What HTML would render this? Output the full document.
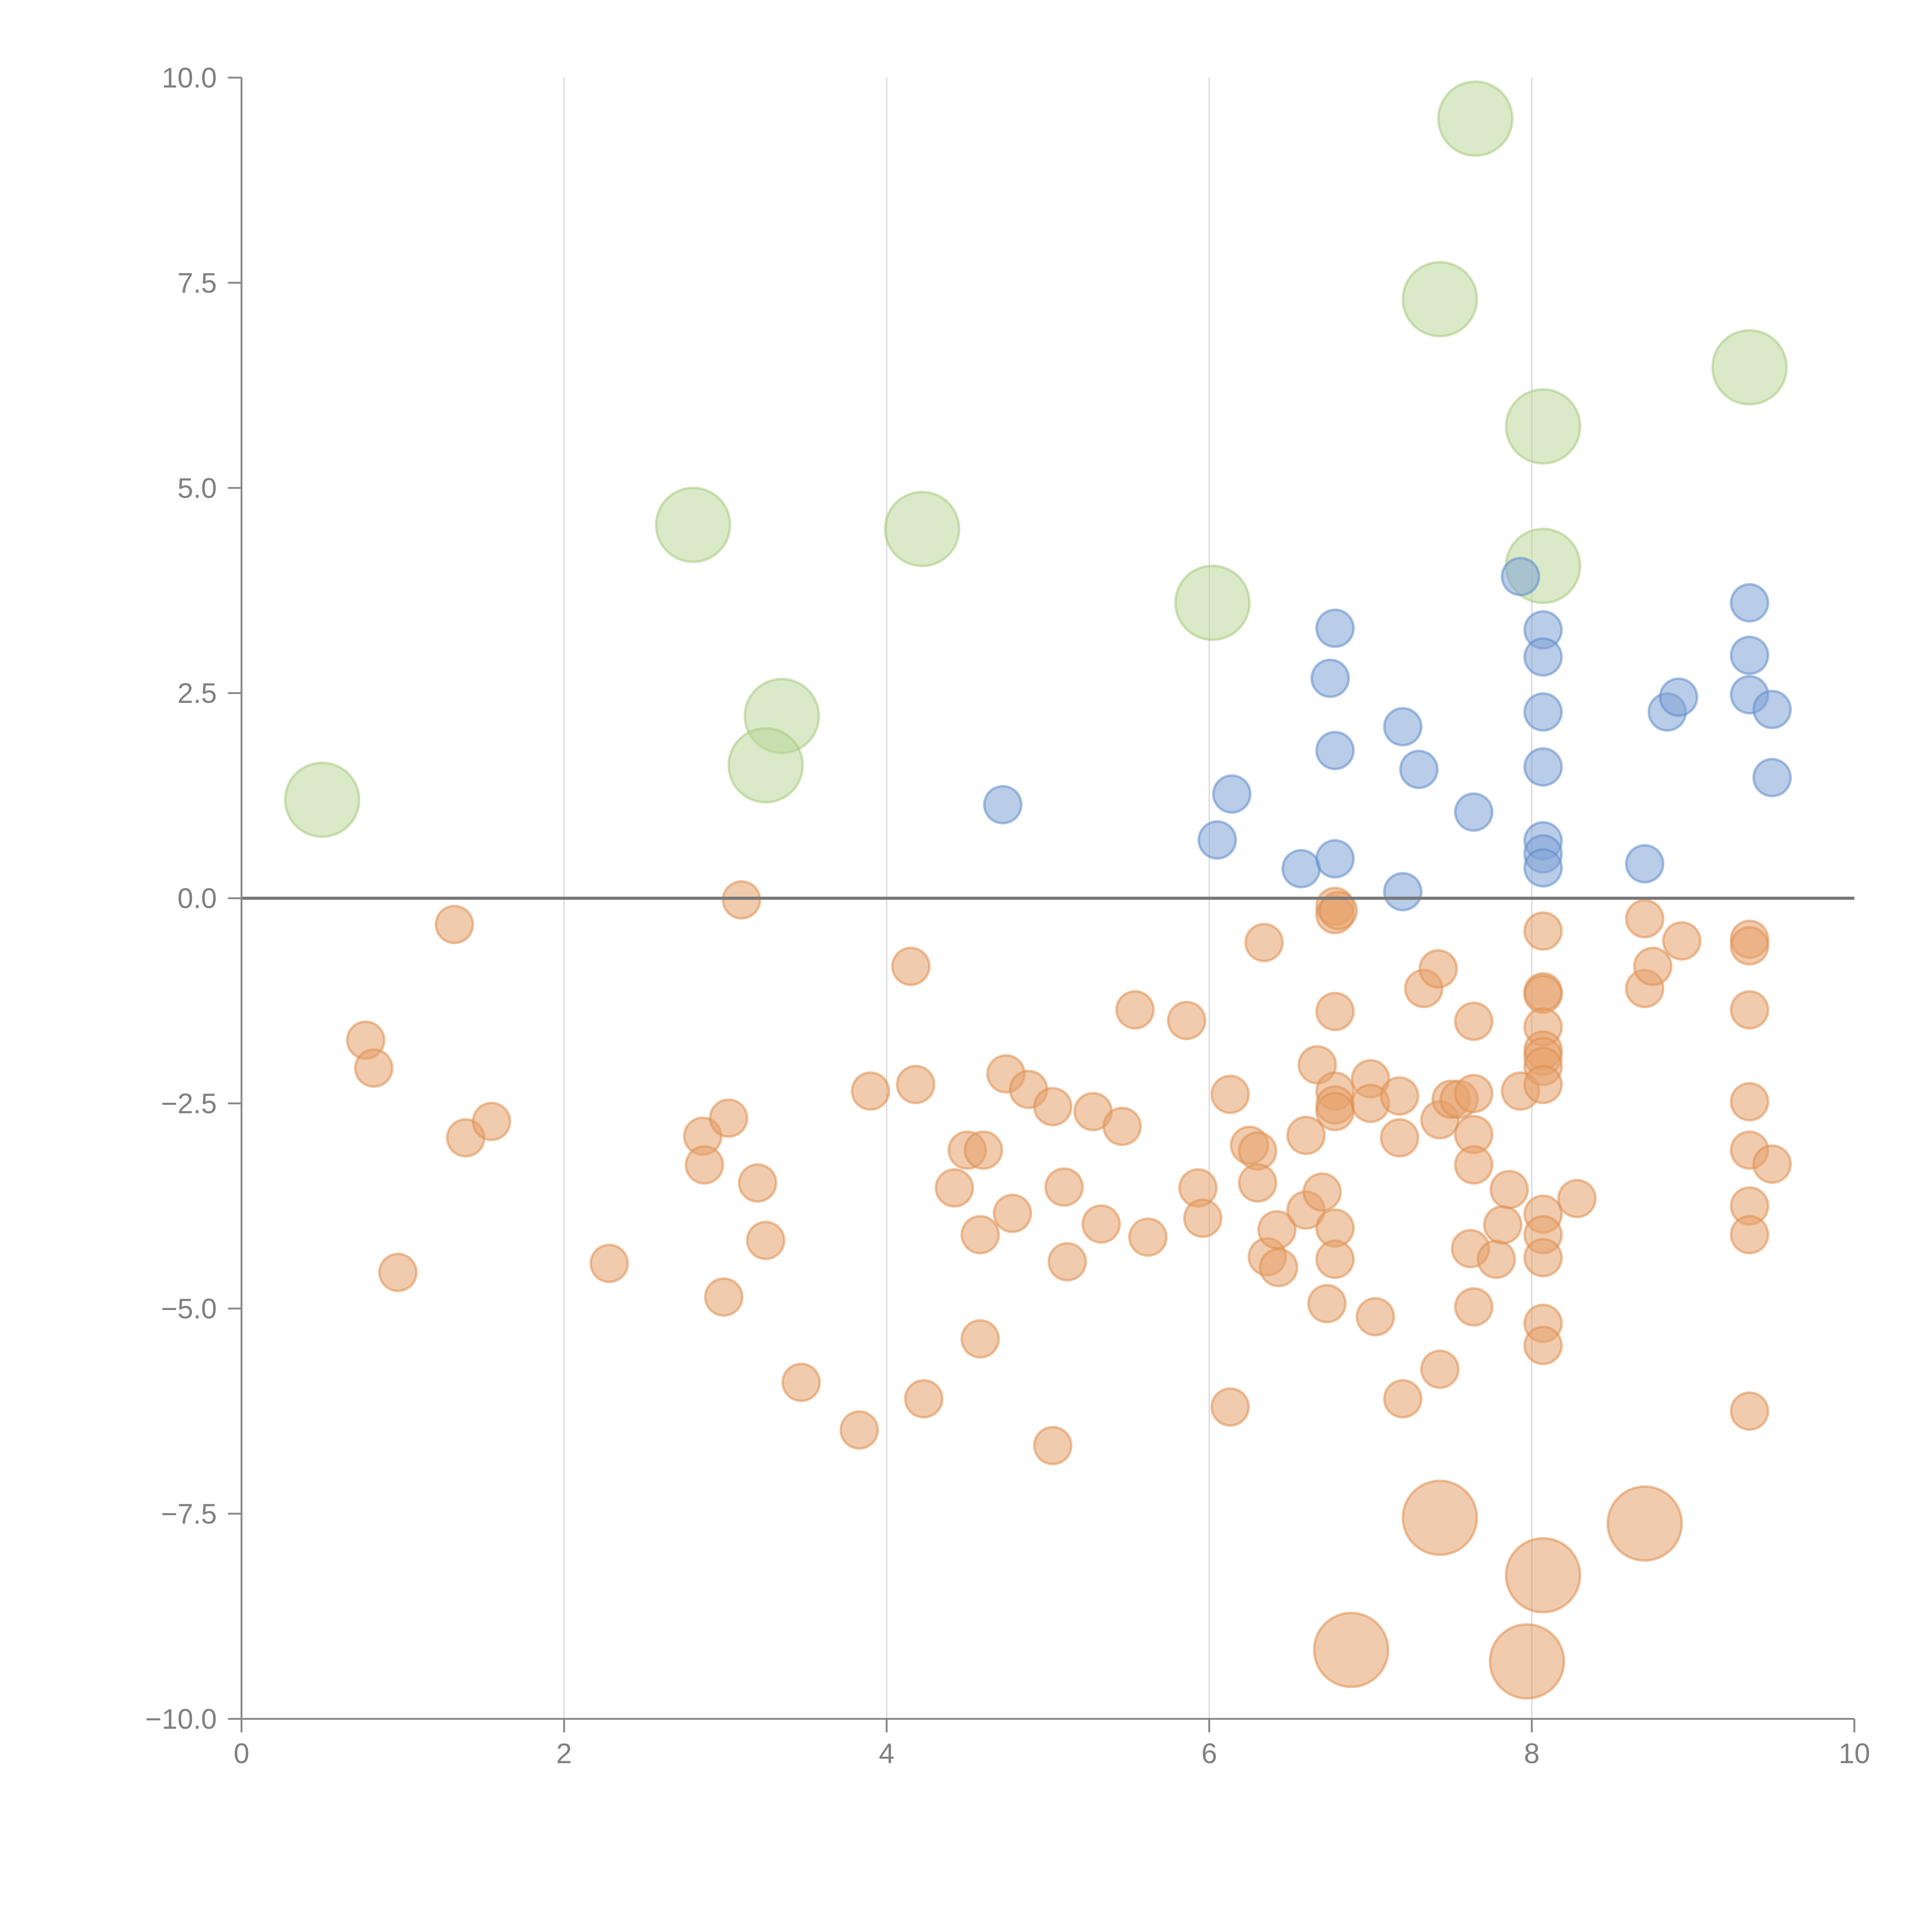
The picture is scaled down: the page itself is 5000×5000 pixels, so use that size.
<!DOCTYPE html>
<html><head><meta charset="utf-8"><style>html,body{margin:0;padding:0;background:#fff}svg{display:block}</style></head>
<body>
<svg id="chart" width="5000" height="5000" viewBox="0 0 1568 1568" xmlns="http://www.w3.org/2000/svg" font-family="Liberation Sans, sans-serif">
<g id="grid"></g>
<g id="marks"></g>
<g id="axes"></g>
</svg>
<script>
const xTicks=[0,2,4,6,8,10];
const yTicks=[10,7.5,5,2.5,0,-2.5,-5,-7.5,-10];
const yTickLabels=["10.0","7.5","5.0","2.5","0.0","\u22122.5","\u22125.0","\u22127.5","\u221210.0"];
const greenX=[0.5,2.8,3.35,3.25,4.22,6.02,7.65,7.43,9.35,8.07,8.07];
const greenY=[1.2,4.55,2.22,1.62,4.5,3.6,9.5,7.3,6.47,5.75,4.05];
const blueX=[4.72,6.05,6.14,6.57,6.75,6.78,6.78,6.78,7.2,7.2,7.3,7.64,7.93,8.07,8.07,8.07,8.07,8.07,8.07,8.07,8.7,8.84,8.91,9.35,9.35,9.35,9.49,9.49];
const blueY=[1.14,0.71,1.27,0.36,2.68,3.29,1.8,0.48,2.09,0.08,1.57,1.05,3.92,3.27,2.94,2.27,1.6,0.7,0.54,0.37,0.42,2.27,2.45,3.6,2.96,2.48,2.3,1.47];
const orangeX=[1.32,0.77,0.82,1.39,1.55,0.97,2.28,2.86,2.87,3.02,2.99,3.1,3.2,3.25,3.47,3.83,3.9,4.15,4.18,4.23,4.42,4.5,4.6,4.58,4.58,4.74,4.78,4.88,5.03,5.03,5.1,5.12,5.28,5.33,5.46,5.54,5.62,5.86,5.93,5.96,6.13,6.13,6.25,6.3,6.3,6.34,6.36,6.42,6.43,6.6,6.6,6.67,6.7,6.73,6.78,6.78,6.78,6.78,6.78,6.78,6.78,6.78,6.8,7.0,7.0,7.03,7.18,7.18,7.2,7.33,7.42,7.43,7.5,7.55,7.43,7.64,7.64,7.64,7.64,7.62,7.64,7.78,7.82,7.86,7.93,8.07,8.07,8.07,8.07,8.07,8.07,8.07,8.07,8.07,8.07,8.07,8.07,8.07,8.28,8.7,8.7,8.75,8.93,9.35,9.35,9.35,9.35,9.35,9.35,9.35,9.35,9.49];
const orangeY=[-0.32,-1.73,-2.07,-2.92,-2.72,-4.56,-4.45,-2.9,-3.25,-2.68,-4.86,-0.02,-3.47,-4.17,-5.9,-6.48,-2.35,-0.83,-2.27,-6.1,-3.53,-3.07,-3.07,-4.1,-5.37,-2.14,-3.84,-2.33,-2.54,-6.67,-3.52,-4.43,-2.6,-3.97,-2.78,-1.36,-4.13,-1.49,-3.53,-3.9,-2.39,-6.2,-3.01,-3.08,-3.47,-0.54,-4.37,-4.04,-4.5,-2.89,-3.8,-2.03,-3.58,-4.94,-1.38,-2.35,-2.52,-2.6,-4.02,-4.4,-0.1,-0.2,-0.15,-2.2,-2.5,-5.1,-2.41,-2.92,-6.1,-1.1,-0.86,-2.7,-2.45,-2.45,-5.74,-1.5,-2.38,-2.88,-3.25,-4.27,-4.98,-4.4,-3.98,-3.55,-2.35,-0.4,-1.14,-1.17,-1.57,-1.85,-1.93,-2.05,-2.27,-3.85,-4.1,-4.38,-5.18,-5.45,-3.66,-0.25,-1.1,-0.83,-0.52,-0.5,-0.58,-1.36,-2.48,-3.07,-3.75,-4.1,-6.25,-3.24];
const bigOrangeX=[7.43,8.7,8.07,6.88,7.97];
const bigOrangeY=[-7.55,-7.62,-8.25,-9.16,-9.3];

const NS="http://www.w3.org/2000/svg";
const X0=196,X1=1505,Y0=1395,Y1=63;
function sx(v){return X0+(v-0)/(10-0)*(X1-X0);}
function sy(v){return Y0-(v+10)/20*(Y0-Y1);}
function mk(tag,attrs,parent){const e=document.createElementNS(NS,tag);for(const k in attrs)e.setAttribute(k,attrs[k]);parent.appendChild(e);return e;}
const grid=document.getElementById('grid'),marks=document.getElementById('marks'),axes=document.getElementById('axes');
xTicks.forEach(t=>{if(t>0&&t<10){const l=mk('line',{x1:sx(t),x2:sx(t),y1:Y1,y2:Y0,stroke:'#d8d8d8','stroke-width':1},grid);

}});
function series(xs,ys,r,fill,stroke,name){xs.forEach((x,i)=>{const c=mk('circle',{cx:sx(x),cy:sy(ys[i]),r:r,fill:fill,'fill-opacity':0.55,stroke:stroke,'stroke-opacity':0.55,'stroke-width':2},marks);

});}
series(greenX,greenY,30,'#bcd79a','#a8cb80','green-bubble');
series(blueX,blueY,15,'#7fa3d6','#5f8cca','blue-point');
series(orangeX,orangeY,15,'#e6a06a','#df9050','orange-point');
series(bigOrangeX,bigOrangeY,30,'#e6a06a','#df9050','orange-bubble');
const z=mk('line',{x1:X0,x2:X1,y1:sy(0),y2:sy(0),stroke:'#777','stroke-width':2.5},axes);


const ya=mk('line',{x1:X0,x2:X0,y1:Y1,y2:Y0,stroke:'#888','stroke-width':1.5},axes);


const xa=mk('line',{x1:X0,x2:X1,y1:Y0,y2:Y0,stroke:'#888','stroke-width':1.5},axes);


yTicks.forEach((t,i)=>{mk('line',{x1:X0-11,x2:X0,y1:sy(t),y2:sy(t),stroke:'#888','stroke-width':1.5},axes);
const tx=mk('text',{x:176,y:sy(t)+8,'text-anchor':'end','font-size':23,fill:'#808080'},axes);
tx.textContent=yTickLabels[i];

});
xTicks.forEach(t=>{mk('line',{x1:sx(t),x2:sx(t),y1:Y0,y2:Y0+11,stroke:'#888','stroke-width':1.5},axes);
const tx=mk('text',{x:sx(t),y:Y0+36,'text-anchor':'middle','font-size':23,fill:'#808080'},axes);
tx.textContent=String(t);

});
</script>
</body></html>
